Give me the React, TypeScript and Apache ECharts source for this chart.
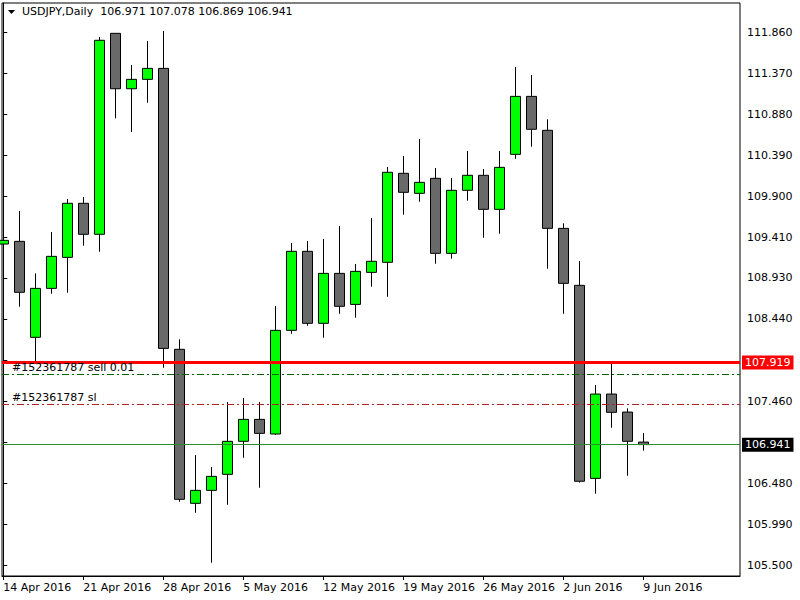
import React, { useEffect, useRef } from "react";
import * as echarts from "echarts";

const symbolName = "USDJPY,Daily";
const dateLabels = ["14 Apr 2016", "21 Apr 2016", "28 Apr 2016", "5 May 2016", "12 May 2016", "19 May 2016", "26 May 2016", "2 Jun 2016", "9 Jun 2016"];
const dateLabelIndex = [0, 5, 10, 15, 20, 25, 30, 35, 40];

// open, close, low, high per daily bar
const opens = [109.334, 109.366, 108.221, 108.805, 109.175, 109.820, 109.450, 111.848, 111.187, 111.299,
  111.430, 108.078, 106.240, 106.395, 106.586, 106.980, 107.242, 107.067, 108.304, 109.247,
  108.388, 108.984, 108.614, 108.996, 109.116, 110.178, 109.939, 110.118, 109.223, 109.975,
  110.154, 109.748, 110.404, 111.096, 110.691, 109.521, 108.841, 106.538, 107.544, 107.329, 106.971];
const closes = [109.378, 108.758, 108.805, 109.187, 109.820, 109.450, 111.765, 111.187, 111.299, 111.430,
  108.089, 106.288, 106.395, 106.562, 106.980, 107.242, 107.075, 108.304, 109.247, 108.388,
  108.984, 108.591, 109.008, 109.128, 110.190, 109.951, 110.070, 109.223, 109.975, 110.154,
  109.748, 110.249, 111.096, 110.703, 109.521, 108.865, 106.503, 107.544, 107.326, 106.980, 106.941];
const lows = [108.884, 108.586, 107.910, 108.741, 108.753, 109.314, 109.242, 110.834, 110.670, 111.020,
  107.858, 106.259, 106.128, 105.531, 106.223, 106.784, 106.426, 107.055, 108.264, 108.359,
  108.216, 108.502, 108.455, 108.825, 108.705, 109.684, 109.839, 109.099, 109.159, 109.851,
  109.409, 109.457, 110.352, 110.495, 109.039, 108.502, 106.488, 106.355, 107.142, 106.569, 106.869];
const highs = [109.533, 109.728, 108.984, 109.477, 109.871, 109.895, 111.804, 111.852, 111.470, 111.756,
  111.876, 108.197, 106.816, 106.673, 107.449, 107.496, 107.449, 108.594, 109.346, 109.370,
  109.394, 109.549, 109.095, 109.644, 110.253, 110.384, 110.587, 110.241, 110.122, 110.444,
  110.229, 110.444, 111.446, 111.351, 110.822, 109.581, 109.131, 107.652, 107.914, 107.374, 107.078];

const priceTicks = [105.5, 105.99, 106.48, 106.97, 107.46, 107.95, 108.44, 108.93, 109.41, 109.9, 110.39, 110.88, 111.37, 111.86];
const priceTickLabels = [105.5, 105.99, 106.48, 107.46, 108.44, 108.93, 109.41, 109.9, 110.39, 110.88, 111.37, 111.86];

const orderPrice = 107.919;
const sellLevel = 107.783;
const slLevel = 107.421;
const sellLabel = "#152361787 sell 0.01";
const slLabel = "#152361787 sl";

const FONT = "DejaVu Sans";

export default function App() {
  const ref = useRef<HTMLDivElement>(null);
  useEffect(() => {
    if (!ref.current) return;
    const chart = echarts.init(ref.current, null, { renderer: "svg" });
    const n = opens.length;
    const data = opens.map((o, i) => [i, o, closes[i], lows[i], highs[i]]);
    const last = n - 1;
    const bid = closes[last];
    const fmt = (v: number) => v.toFixed(3);
    const header = `${symbolName}  ${fmt(opens[last])} ${fmt(highs[last])} ${fmt(lows[last])} ${fmt(closes[last])}`;

    chart.setOption({
      animation: false,
      backgroundColor: "#ffffff",
      grid: { left: 2, top: 3, right: 60, bottom: 24, show: true, borderColor: "#000", borderWidth: 1, backgroundColor: "#fff" },
      xAxis: {
        type: "value",
        min: -0.081,
        max: 46.044,
        splitLine: { show: false },
        axisLine: { show: true, lineStyle: { color: "#000", width: 1 } },
        axisTick: { show: true, customValues: dateLabelIndex, length: 4, lineStyle: { color: "#000" } },
        axisLabel: {
          customValues: dateLabelIndex,
          formatter: (v: number) => {
            const k = dateLabelIndex.indexOf(Math.round(v));
            return k >= 0 ? dateLabels[k] : "";
          },
          align: "left",
          margin: 6,
          color: "#000",
          fontFamily: FONT,
          fontSize: 11,
        },
      },
      yAxis: {
        type: "value",
        position: "right",
        min: 105.373,
        max: 112.21,
        scale: true,
        splitLine: { show: false },
        axisLine: { show: true, lineStyle: { color: "#000", width: 1 } },
        axisTick: { show: true, customValues: priceTicks, length: 4, lineStyle: { color: "#000" } },
        axisLabel: {
          customValues: priceTickLabels,
          formatter: (v: number) => v.toFixed(3),
          margin: 7,
          color: "#000",
          fontFamily: FONT,
          fontSize: 11,
        },
      },
      graphic: [
        { type: "polygon", shape: { points: [[8, 10], [15, 10], [11.5, 14]] }, style: { fill: "#000" } },
        { type: "text", left: 22, top: 6, style: { text: header, fill: "#000", font: `11px "${FONT}"` } },
      ],
      series: [
        {
          type: "candlestick",
          data,
          barWidth: 10,
          clip: true,
          itemStyle: {
            color: "#00ff00",
            color0: "#696969",
            borderColor: "#000",
            borderColor0: "#000",
            borderWidth: 1,
          },
          markLine: {
            silent: true,
            symbol: ["none", "none"],
            animation: false,
            data: [
              {
                yAxis: sellLevel,
                lineStyle: { color: "#006400", width: 1, type: [7, 3, 2, 3] },
                label: { show: true, position: "insideStartTop", formatter: sellLabel, color: "#000", fontFamily: FONT, fontSize: 11, distance: [10, 1] },
              },
              {
                yAxis: slLevel,
                lineStyle: { color: "#b22222", width: 1, type: [7, 3, 2, 3] },
                label: { show: true, position: "insideStartTop", formatter: slLabel, color: "#000", fontFamily: FONT, fontSize: 11, distance: [10, 1] },
              },
              {
                yAxis: bid,
                lineStyle: { color: "#2e8b2e", width: 1, type: "solid" },
                label: { show: true, position: "end", formatter: fmt(bid), color: "#fff", backgroundColor: "#000", padding: [2, 3, 1, 3], fontFamily: FONT, fontSize: 11, distance: 2 },
              },
              {
                yAxis: orderPrice,
                lineStyle: { color: "#ff0000", width: 3, type: "solid" },
                label: { show: true, position: "end", formatter: fmt(orderPrice), color: "#fff", backgroundColor: "#ff0000", padding: [2, 3, 1, 3], fontFamily: FONT, fontSize: 11, distance: 2 },
              },
            ],
          },
        },
      ],
    });
    return () => chart.dispose();
  }, []);
  return <div ref={ref} style={{ position: "fixed", left: 0, top: 0, width: 800, height: 600 }} />;
}
